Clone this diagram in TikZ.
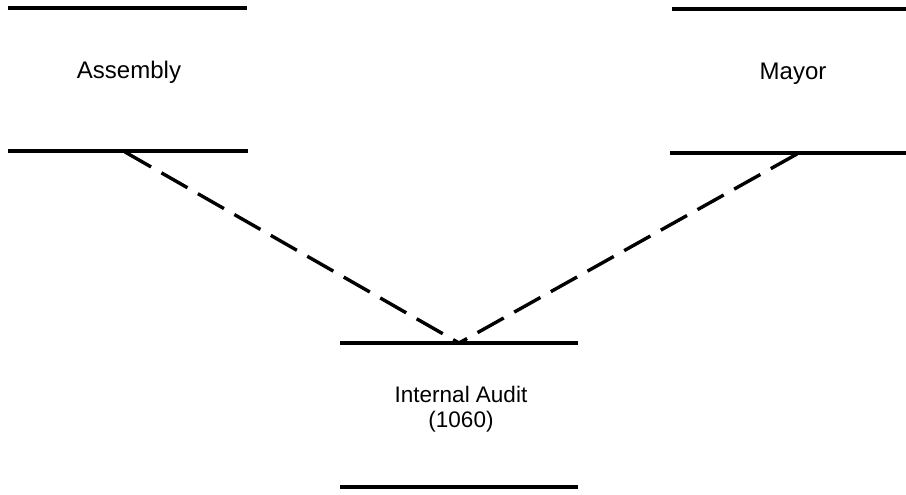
\documentclass[tikz,border=0pt]{standalone}
\usepackage{fontspec}
\setmainfont{Liberation Sans}
\usetikzlibrary{calc}

\begin{document}
\begin{tikzpicture}[x=1pt,y=-1pt,
                    rule/.style={line width=3.2pt},
                    link/.style={line width=3.4pt,dash pattern=on 30pt off 12pt},
                    title/.style={anchor=base,font=\fontsize{24}{26}\selectfont},
                    small/.style={anchor=base,align=center,font=\fontsize{22.5}{25}\selectfont}]
  \useasboundingbox (0,0) rectangle (906,495);

  % lines of each office
  \coordinate (AsmTL) at (8,8);     \coordinate (AsmTR) at (247,8);
  \coordinate (AsmBL) at (8,151);   \coordinate (AsmBR) at (248,151);
  \coordinate (MayTL) at (672,9);   \coordinate (MayTR) at (906,9);
  \coordinate (MayBL) at (670,153); \coordinate (MayBR) at (906,153);
  \coordinate (AudTL) at (340,343); \coordinate (AudTR) at (578,343);
  \coordinate (AudBL) at (340,487); \coordinate (AudBR) at (578,487);

  \node[title] (Asm) at (129,79) {Assembly};
  \node[title] (May) at (793,80) {Mayor};
  \node[small] (Aud) at (461,427) {Internal Audit\\(1060)};

  \draw[rule] (AsmTL) -- (AsmTR) (AsmBL) -- (AsmBR);
  \draw[rule] (MayTL) -- (MayTR) (MayBL) -- (MayBR);
  \draw[rule] (AudTL) -- (AudTR) (AudBL) -- (AudBR);

  % dashed links
  \coordinate (AsmJoin) at (125,152);
  \coordinate (MayJoin) at (797,154);
  \coordinate (AudJoin) at (459,343);
  \draw[link] (AsmJoin) -- (AudJoin);
  \draw[link] (MayJoin) -- (AudJoin);
\end{tikzpicture}
\end{document}
